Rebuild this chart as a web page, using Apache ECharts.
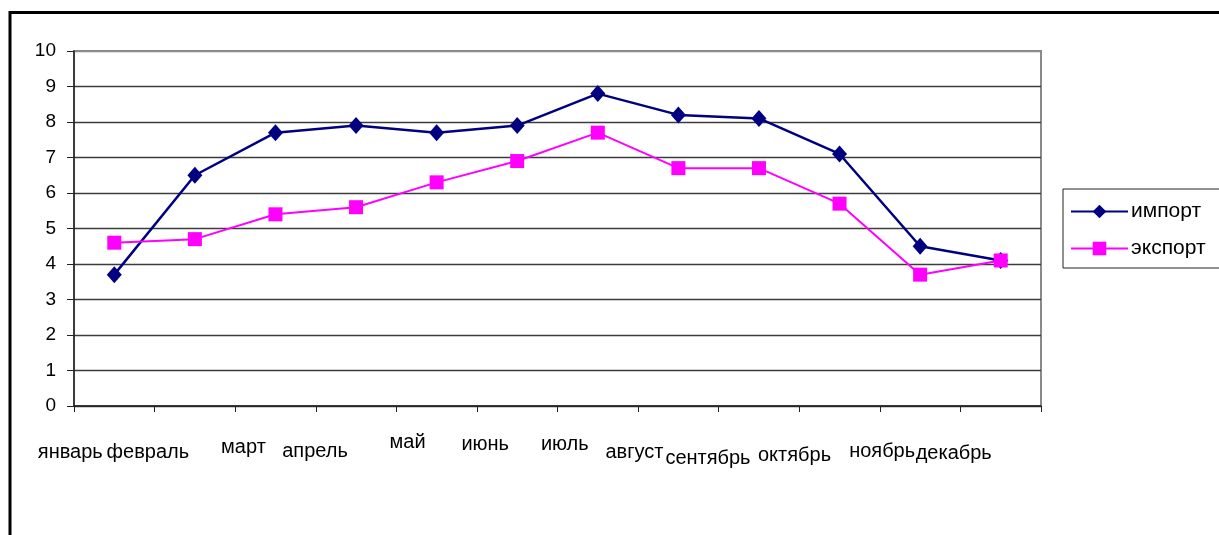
<!DOCTYPE html>
<html>
<head>
<meta charset="utf-8">
<script src="https://cdn.jsdelivr.net/npm/echarts@6/dist/echarts.min.js"></script>
<style>
  html, body { margin: 0; padding: 0; background: #fff; }
  #chart { width: 1219px; height: 535px; }
</style>
</head>
<body>
<div id="chart"></div>
<script>
// Monthly values, 0–10 scale
const months = ['январь', 'февраль', 'март', 'апрель', 'май', 'июнь', 'июль', 'август', 'сентябрь', 'октябрь', 'ноябрь', 'декабрь'];
const importValues = [3.7, 6.5, 7.7, 7.9, 7.7, 7.9, 8.8, 8.2, 8.1, 7.1, 4.5, 4.1];
const exportValues = [4.6, 4.7, 5.4, 5.6, 6.3, 6.9, 7.7, 6.7, 6.7, 5.7, 3.7, 4.1];
const yTicks = [0, 1, 2, 3, 4, 5, 6, 7, 8, 9, 10];

// Month labels sit staggered, pulled left towards the category boundaries
const labelShiftX = [-44, -47, -32, -41, -29, -32, -33, -44, -51, -45, -38, -47];
const labelDropY = [10, 10, 5, 9, 0, 2, 2, 10, 16, 13, 9, 11];

const categoryData = months.map((m, i) => ({
  value: m,
  textStyle: { padding: [labelDropY[i], -2 * labelShiftX[i], 0, 0] }
}));

const gridColors = yTicks.map((t, i) => (i === yTicks.length - 1 ? '#8a8a8a' : '#3c3c3c'));

const chart = echarts.init(document.getElementById('chart'), null, { renderer: 'canvas' });
const FONT = '"Liberation Sans", Arial, sans-serif';

chart.setOption({
  backgroundColor: '#ffffff',
  animation: false,
  textStyle: { fontFamily: FONT, color: '#000' },
  grid: {
    left: 74, top: 51, right: 178, bottom: 129,
    show: true, borderColor: '#8a8a8a', borderWidth: 2, backgroundColor: 'transparent'
  },
  xAxis: {
    type: 'category',
    data: categoryData,
    boundaryGap: true,
    axisLine: { lineStyle: { color: '#222', width: 1.5 } },
    axisTick: { show: true, length: 6, inside: false, lineStyle: { color: '#222' } },
    axisLabel: {
      interval: 0, margin: 26, fontSize: 20, lineHeight: 20,
      fontFamily: FONT, color: '#000', hideOverlap: false
    },
    splitLine: { show: false }
  },
  yAxis: {
    type: 'value',
    min: 0, max: 10, interval: 1,
    axisLine: { show: true, lineStyle: { color: '#222', width: 1.5 } },
    axisTick: { show: true, length: 7, lineStyle: { color: '#222' } },
    axisLabel: { margin: 18, fontSize: 19, fontFamily: FONT, color: '#000' },
    splitLine: { show: true, lineStyle: { color: gridColors, width: 1.3 } }
  },
  legend: {
    orient: 'vertical',
    left: 1063, top: 189,
    padding: [12, 60, 9, 7],
    itemGap: 16,
    itemWidth: 57, itemHeight: 17,
    borderColor: '#222', borderWidth: 1,
    textStyle: { fontSize: 21, fontFamily: FONT, color: '#000', padding: [0, 0, 0, -2] },
    data: ['импорт', 'экспорт']
  },
  series: [
    {
      name: 'импорт',
      type: 'line',
      data: importValues,
      symbol: 'diamond',
      symbolSize: [15, 17],
      color: '#000080',
      lineStyle: { color: '#000080', width: 2.5 },
      itemStyle: { color: '#000080' }
    },
    {
      name: 'экспорт',
      type: 'line',
      data: exportValues,
      symbol: 'rect',
      symbolSize: 14,
      color: '#ff00ff',
      lineStyle: { color: '#ff00ff', width: 2 },
      itemStyle: { color: '#ff00ff' }
    }
  ],
  graphic: [
    {
      type: 'rect',
      shape: { x: 10, y: 12.5, width: 1400, height: 700 },
      style: { fill: null, stroke: '#000', lineWidth: 3 },
      silent: true
    }
  ]
});
</script>
</body>
</html>
